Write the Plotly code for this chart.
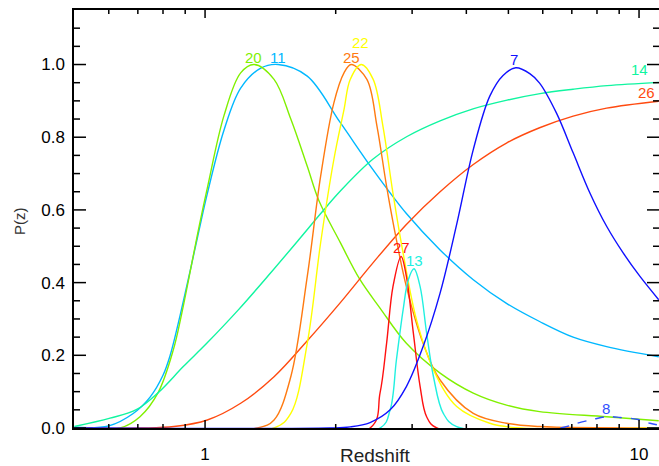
import math
import plotly.graph_objects as go

# ---- data (redshift z, probability P(z)) ----
z11 = [0.5, 0.6, 0.683, 0.747, 0.80, 0.831, 0.876, 0.927, 0.969, 1.012, 1.106, 1.208, 1.344, 1.473, 1.72, 2.05, 2.44, 2.91, 3.48, 4.15, 4.95, 5.9, 7.05, 8.42, 11.1]
p11 = [0.002, 0.006, 0.04, 0.085, 0.145, 0.2, 0.31, 0.44, 0.545, 0.645, 0.82, 0.935, 0.99, 1.0, 0.968, 0.84, 0.71, 0.59, 0.49, 0.408, 0.343, 0.293, 0.25, 0.224, 0.196]

z20 = [0.5, 0.637, 0.708, 0.78, 0.845, 0.884, 0.969, 1.012, 1.106, 1.208, 1.297, 1.442, 1.576, 1.72, 1.83, 2.05, 2.27, 2.53, 2.91, 3.48, 4.15, 4.95, 5.9, 8.42, 11.1]
p20 = [0.0, 0.0, 0.031, 0.098, 0.215, 0.316, 0.555, 0.66, 0.86, 0.977, 1.0, 0.959, 0.85, 0.72, 0.625, 0.51, 0.41, 0.33, 0.233, 0.151, 0.096, 0.063, 0.045, 0.031, 0.02]

z14 = [0.5, 0.604, 0.696, 0.781, 0.891, 1.009, 1.193, 1.412, 1.655, 1.841, 2.05, 2.439, 2.92, 3.479, 4.145, 4.965, 5.914, 7.046, 8.44, 11.12]
p14 = [0.004, 0.027, 0.051, 0.098, 0.169, 0.233, 0.325, 0.425, 0.522, 0.588, 0.652, 0.74, 0.802, 0.845, 0.878, 0.902, 0.92, 0.932, 0.942, 0.951]

z26 = [0.5, 0.711, 0.848, 1.012, 1.208, 1.442, 1.72, 2.05, 2.44, 2.91, 3.48, 4.15, 4.95, 5.9, 7.05, 8.42, 11.1]
p26 = [0.0, 0.0, 0.004, 0.022, 0.068, 0.141, 0.24, 0.345, 0.455, 0.56, 0.65, 0.725, 0.784, 0.826, 0.858, 0.88, 0.899]

z25 = [0.5, 1.32, 1.442, 1.576, 1.72, 1.846, 1.98, 2.09, 2.17, 2.36, 2.49, 2.62, 2.76, 2.91, 3.18, 3.48, 4.15, 4.95, 5.9, 11.1]
p25 = [0.0, 0.0, 0.022, 0.141, 0.417, 0.692, 0.894, 0.977, 1.0, 0.959, 0.83, 0.665, 0.518, 0.389, 0.233, 0.132, 0.04, 0.013, 0.004, 0.0]

z22 = [0.5, 1.442, 1.576, 1.72, 1.846, 1.98, 2.09, 2.16, 2.29, 2.44, 2.57, 2.71, 2.86, 3.07, 3.36, 3.80, 4.53, 5.2, 11.1]
p22 = [0.0, 0.0, 0.04, 0.233, 0.509, 0.738, 0.876, 0.959, 1.0, 0.959, 0.83, 0.646, 0.481, 0.298, 0.16, 0.059, 0.013, 0.001, 0.0]

z27 = [0.5, 2.4, 2.53, 2.62, 2.71, 2.83, 2.91, 3.02, 3.13, 3.24, 3.42, 11.1]
p27 = [0.0, 0.0, 0.096, 0.233, 0.389, 0.472, 0.417, 0.261, 0.114, 0.031, 0.0, 0.0]

z13 = [0.5, 2.53, 2.67, 2.76, 2.86, 2.94, 3.03, 3.13, 3.24, 3.36, 3.54, 3.80, 11.1]
p13 = [0.0, 0.0, 0.05, 0.187, 0.325, 0.408, 0.438, 0.389, 0.261, 0.141, 0.04, 0.004, 0.0]

z7 = [0.5, 1.94, 2.16, 2.4, 2.67, 2.91, 3.18, 3.48, 3.80, 4.15, 4.53, 4.86, 5.2, 5.6, 5.9, 6.45, 7.05, 7.71, 8.42, 9.2, 10.05, 11.1]
p7 = [0.0, 0.0, 0.003, 0.015, 0.05, 0.114, 0.224, 0.371, 0.56, 0.766, 0.913, 0.97, 0.991, 0.975, 0.949, 0.867, 0.757, 0.646, 0.555, 0.481, 0.417, 0.353]

z8 = [0.5, 6.57, 7.19, 7.85, 8.42, 9.05, 9.88, 10.6, 11.1]
p8 = [0.0, 0.0, 0.013, 0.024, 0.031, 0.029, 0.024, 0.013, 0.008]

names = ["11", "20", "14", "26", "25", "22", "27", "13", "7", "8"]
colors = ["#00b8ff", "#80f000", "#10f5a0", "#ff4a10", "#ff7a10", "#ffff00", "#ff1010", "#20f0e0", "#1010ff", "#3050ff"]
zs = [z11, z20, z14, z26, z25, z22, z27, z13, z7, z8]
ps = [p11, p20, p14, p26, p25, p22, p27, p13, p7, p8]

# label anchor (z, P) for each curve name
label_z = [1.47, 1.29, 10.0, 10.4, 2.17, 2.28, 2.83, 3.03, 5.15, 8.4]
label_p = [1.02, 1.02, 0.985, 0.922, 1.018, 1.06, 0.496, 0.46, 1.014, 0.054]

x_major = [1, 10]
x_minor = [0.6, 0.7, 0.8, 0.9, 2, 3, 4, 5, 6, 7, 8, 9]
y_major = [0, 0.2, 0.4, 0.6, 0.8, 1.0]
y_labels = ["0.0", "0.2", "0.4", "0.6", "0.8", "1.0"]
y_minor = [0.05, 0.1, 0.15, 0.25, 0.3, 0.35, 0.45, 0.5, 0.55, 0.65, 0.7, 0.75,
           0.85, 0.9, 0.95, 1.05, 1.1]

XR = [-0.302, 1.046]
YR = [0, 1.15]
W, H = 659, 466
ML, MR, MT, MB = 74, 0, 10, 38
PW, PH = W - ML - MR, H - MT - MB

fig = go.Figure()
for n, c, zz, pp in zip(names, colors, zs, ps):
    fig.add_trace(go.Scatter(
        x=zz, y=pp, mode="lines", name=n,
        line=dict(color=c, width=1.4, shape="spline", smoothing=1.0,
                  dash="dash" if n == "8" else "solid"),
        showlegend=False, hoverinfo="skip"))

for n, c, lz, lp in zip(names, colors, label_z, label_p):
    fig.add_annotation(x=math.log10(lz), y=lp, text=n, showarrow=False,
                       font=dict(family="Liberation Sans, Arial", size=15, color=c),
                       xanchor="center", yanchor="middle")

# tick marks (inside, on all four sides) drawn from the tick value lists,
# with pixel lengths converted to axis units
dy_per_px = (YR[1] - YR[0]) / PH
dlog_per_px = (XR[1] - XR[0]) / PW
tx, ty = [], []
for vals, ln in ((x_major, 8), (x_minor, 4)):
    for v in vals:
        tx += [v, v, None, v, v, None]
        ty += [YR[0], YR[0] + ln * dy_per_px, None, YR[1] - ln * dy_per_px, YR[1], None]
for vals, ln in ((y_major, 12), (y_minor, 6)):
    for v in vals:
        tx += [10 ** XR[0], 10 ** (XR[0] + ln * dlog_per_px), None,
               10 ** (XR[1] - ln * dlog_per_px), 10 ** XR[1], None]
        ty += [v, v, None, v, v, None]
fig.add_trace(go.Scatter(x=tx, y=ty, mode="lines", line=dict(color="black", width=1.5),
                         showlegend=False, hoverinfo="skip", connectgaps=False,
                         cliponaxis=False))

# axis titles
fig.add_annotation(xref="paper", yref="paper", x=(375 - ML) / PW, y=(H - MB - 455) / PH,
                   text="Redshift", showarrow=False, xanchor="center", yanchor="middle",
                   font=dict(family="Liberation Sans, Arial", size=19, color="#222"))
fig.add_annotation(xref="paper", yref="paper", x=(19 - ML) / PW, y=(H - MB - 221) / PH,
                   text="P(z)", showarrow=False, textangle=-90,
                   xanchor="center", yanchor="middle",
                   font=dict(family="Liberation Sans, Arial", size=15, color="#333"))

fig.update_layout(
    template="none",
    width=W, height=H,
    margin=dict(l=ML, r=MR, t=MT, b=MB),
    paper_bgcolor="white", plot_bgcolor="white",
    font=dict(family="Liberation Sans, Arial", color="black"),
)
fig.update_xaxes(
    type="log", range=XR,
    tickmode="array", tickvals=x_major, ticktext=[str(v) for v in x_major],
    ticks="", tickfont=dict(size=17), ticklabelstandoff=10,
    showline=True, linecolor="black", linewidth=1.5, mirror=True,
    showgrid=False, zeroline=False,
)
fig.update_yaxes(
    range=YR,
    tickmode="array", tickvals=y_major, ticktext=y_labels,
    ticks="", tickfont=dict(size=17), ticklabelstandoff=4,
    showline=True, linecolor="black", linewidth=1.5, mirror=True,
    showgrid=False, zeroline=False,
)

fig.write_html("out.html")
